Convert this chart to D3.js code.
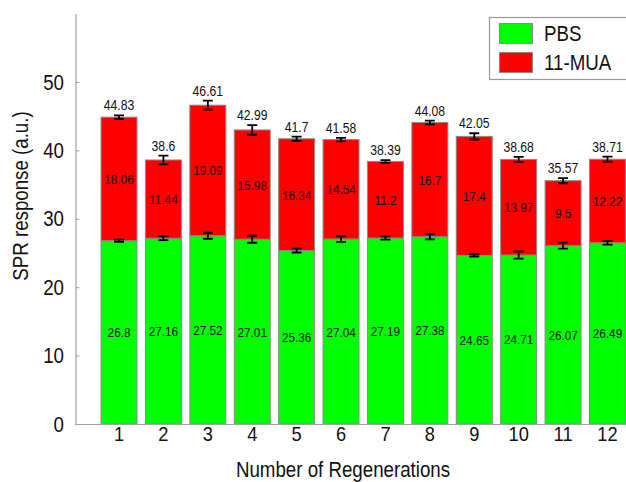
<!DOCTYPE html>
<html>
<head>
<meta charset="utf-8">
<script src="https://cdn.jsdelivr.net/npm/d3@7"></script>
<style>
  html, body { margin: 0; padding: 0; background: #fff; }
  svg { display: block; font-family: "Liberation Sans", Arial, sans-serif; }
</style>
</head>
<body>
<svg id="chart" width="626" height="482"></svg>
<script>
// Regeneration cycles
const categories = ["1","2","3","4","5","6","7","8","9","10","11","12"];
// PBS baseline response per cycle
const pbsValues = [26.8, 27.16, 27.52, 27.01, 25.36, 27.04, 27.19, 27.38, 24.65, 24.71, 26.07, 26.49];
const pbsErrors = [0.17, 0.29, 0.44, 0.51, 0.29, 0.41, 0.24, 0.39, 0.17, 0.54, 0.44, 0.27];
// 11-MUA increment on top of PBS
const muaValues = [18.06, 11.44, 19.09, 15.98, 16.34, 14.54, 11.2, 16.7, 17.4, 13.97, 9.5, 12.22];
const totalLabels = [44.83, 38.6, 46.61, 42.99, 41.7, 41.58, 38.39, 44.08, 42.05, 38.68, 35.57, 38.71];
const totalErrors = [0.27, 0.63, 0.66, 0.7, 0.3, 0.25, 0.2, 0.27, 0.46, 0.37, 0.37, 0.37];
const yTicks = [0, 10, 20, 30, 40, 50];
const seriesNames = ["PBS", "11-MUA"];
const seriesColors = ["#00ff00", "#ff0000"];

const svg = d3.select("#chart");
const SQ = 0.87; // horizontal squeeze of the typeface

const x = d3.scaleBand().domain(categories).range([92.6, 633.9]).padding(0.19);
const y = d3.scaleLinear().domain([0, 60]).range([424, 13.6]);

const stacks = categories.map((c, i) => ({
  cat: c,
  pbs: pbsValues[i],
  top: pbsValues[i] + muaValues[i],
  mua: muaValues[i],
  pbsErr: pbsErrors[i],
  totErr: totalErrors[i],
  total: totalLabels[i]
}));

function label(g, tx, ty, text, size, anchor) {
  return g.append("text")
    .attr("transform", `translate(${tx},${ty}) scale(${SQ},1)`)
    .attr("text-anchor", anchor || "middle")
    .attr("font-size", size)
    .attr("fill", "#111")
    .text(text);
}

// Bars
const bars = svg.append("g");
bars.selectAll("rect.pbs").data(stacks).join("rect")
  .attr("class", "pbs")
  .attr("x", d => x(d.cat)).attr("width", x.bandwidth())
  .attr("y", d => y(d.pbs)).attr("height", d => y(0) - y(d.pbs))
  .attr("fill", seriesColors[0]).attr("stroke", "#8a8a8a").attr("stroke-width", 1);
bars.selectAll("rect.mua").data(stacks).join("rect")
  .attr("class", "mua")
  .attr("x", d => x(d.cat)).attr("width", x.bandwidth())
  .attr("y", d => y(d.top)).attr("height", d => y(d.pbs) - y(d.top))
  .attr("fill", seriesColors[1]).attr("stroke", "#8a8a8a").attr("stroke-width", 1);

// Error bars
const capW = 5;
function errBar(g, cx, v, e) {
  const p = d3.path();
  p.moveTo(cx, y(v + e)); p.lineTo(cx, y(v - e));
  p.moveTo(cx - capW, y(v + e)); p.lineTo(cx + capW, y(v + e));
  p.moveTo(cx - capW, y(v - e)); p.lineTo(cx + capW, y(v - e));
  g.append("path").attr("d", p.toString()).attr("fill", "none")
    .attr("stroke", "#000").attr("stroke-width", 1.8);
}
const errs = svg.append("g");
stacks.forEach(d => {
  const cx = x(d.cat) + x.bandwidth() / 2;
  errBar(errs, cx, d.pbs, d.pbsErr);
  errBar(errs, cx, d.top, d.totErr);
});

// Value labels
const vl = svg.append("g");
stacks.forEach(d => {
  const cx = x(d.cat) + x.bandwidth() / 2;
  label(vl, cx, (y(0) + y(d.pbs)) / 2 + 5, String(d.pbs), 13.5);
  label(vl, cx, (y(d.pbs) + y(d.top)) / 2 + 5, String(d.mua), 13.5);
  label(vl, cx, y(d.top + d.totErr) - 5, String(d.total), 14);
});

// Axes
const axisColor = "#a0a0a0";
const yAxis = svg.append("g").attr("transform", "translate(75.5,0)")
  .call(d3.axisLeft(y).tickValues(yTicks).tickSizeInner(-4).tickSizeOuter(0).tickPadding(0).tickFormat(""));
yAxis.select(".domain").attr("stroke", axisColor).attr("stroke-width", 1.2);
yAxis.selectAll(".tick line").attr("stroke", axisColor);
yTicks.forEach(t => label(svg, 64, y(t) + 7.5, String(t), 21.5, "end"));

svg.append("line").attr("x1", 75).attr("x2", 626).attr("y1", 424.5).attr("y2", 424.5)
  .attr("stroke", axisColor).attr("stroke-width", 1.2);
categories.forEach(c => label(svg, x(c) + x.bandwidth() / 2, 441, c, 21));

// Axis titles
label(svg, 343, 477, "Number of Regenerations", 21.5);
svg.append("text")
  .attr("transform", `translate(28,196) rotate(-90) scale(${SQ},1)`)
  .attr("text-anchor", "middle").attr("font-size", 21.5).attr("fill", "#111")
  .text("SPR response (a.u.)");

// Legend
const lg = svg.append("g");
lg.append("rect").attr("x", 489.5).attr("y", 17.5).attr("width", 150).attr("height", 62)
  .attr("fill", "#fff").attr("stroke", "#999").attr("stroke-width", 1.2);
seriesNames.forEach((n, i) => {
  lg.append("rect").attr("x", 499.5).attr("y", 23.5 + i * 29).attr("width", 33).attr("height", 20)
    .attr("fill", seriesColors[i]).attr("stroke", "#8a8a8a");
  label(lg, 544, 41 + i * 29, n, 21.5, "start");
});
</script>
</body>
</html>
